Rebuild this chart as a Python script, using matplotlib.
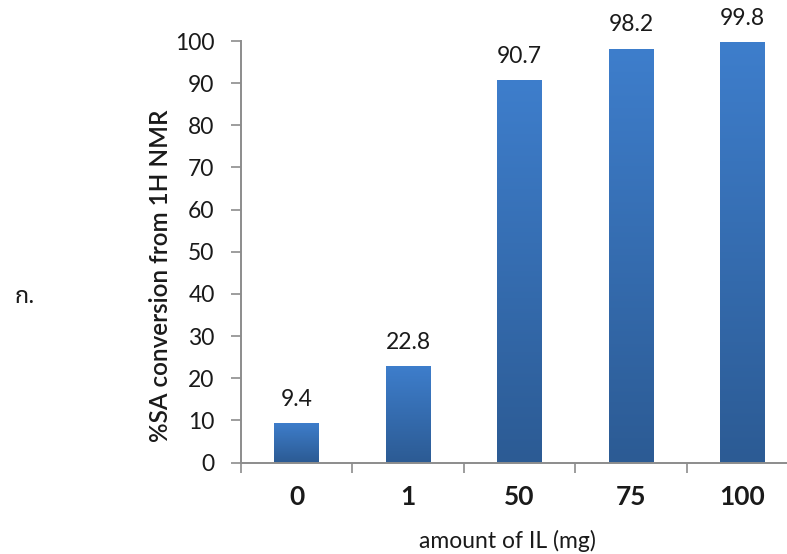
import numpy as np
import matplotlib.pyplot as plt
from matplotlib.colors import LinearSegmentedColormap

# data
categories = ['0', '1', '50', '75', '100']
conversion = [9.4, 22.8, 90.7, 98.2, 99.8]
y_ticks = [0, 10, 20, 30, 40, 50, 60, 70, 80, 90, 100]

W, H = 787, 554
fig = plt.figure(figsize=(W / 100, H / 100), dpi=100)
ax = fig.add_axes([241 / W, 91.5 / H, 557 / W, 421.5 / H])

font = ['Lato', 'DejaVu Sans']
axis_col = '#8c8c8c'
grad = LinearSegmentedColormap.from_list('bar', ['#2c5b94', '#3e7ecc'])

x = np.arange(len(categories))
bars = ax.bar(x, conversion, width=0.4, color='#3569ad', zorder=2)

# vertical gradient inside each bar (light top, dark bottom)
g = np.linspace(0, 1, 256).reshape(-1, 1)
for b in bars:
    x0, y0 = b.get_x(), b.get_y()
    im = ax.imshow(g, cmap=grad, origin='lower', aspect='auto',
                   extent=[x0, x0 + b.get_width(), y0, y0 + b.get_height()], zorder=3)
    im.set_clip_path(b)

for xi, v in zip(x, conversion):
    ax.annotate(f'{v}', (xi, v), xytext=(0, 9.5), textcoords='offset points',
                ha='center', va='bottom', fontsize=16.5, family=font, color='#1a1a1a')

ax.set_xlim(-0.5, 4.5)
ax.set_ylim(0, 100)
ax.set_yticks(y_ticks)
ax.set_yticklabels([str(t) for t in y_ticks], fontsize=16.5, family=font, color='#1a1a1a')
ax.set_xticks(x)
ax.set_xticklabels(categories, fontsize=19, family=font, fontweight='bold', color='#1a1a1a')
ax.set_xticks(np.arange(-0.5, 5, 1), minor=True)
ax.tick_params(axis='x', which='major', length=0, pad=16)
ax.tick_params(axis='x', which='minor', length=7, width=1.2, color=axis_col)
ax.tick_params(axis='y', length=7, width=1.2, color=axis_col, pad=12)

for s in ['top', 'right']:
    ax.spines[s].set_visible(False)
for s in ['left', 'bottom']:
    ax.spines[s].set_color(axis_col)
    ax.spines[s].set_linewidth(1.4)
ax.set_facecolor('none')

fig.text(507 / W, (H - 541) / H, 'amount of IL (mg)', ha='center', va='center',
         fontsize=16.5, family=font, color='#1a1a1a')
fig.text(161 / W, (H - 276) / H, '%SA conversion from 1H NMR', rotation=90, ha='center', va='center',
         fontsize=17.5, family=font, fontweight='semibold', color='#1a1a1a')
fig.text(25 / W, (H - 297) / H, 'ก.', ha='center', va='center', fontsize=17,
         family=['Noto Sans Thai', 'Noto Sans', 'DejaVu Sans'], color='#1a1a1a')

fig.savefig('out.png', dpi=100)
